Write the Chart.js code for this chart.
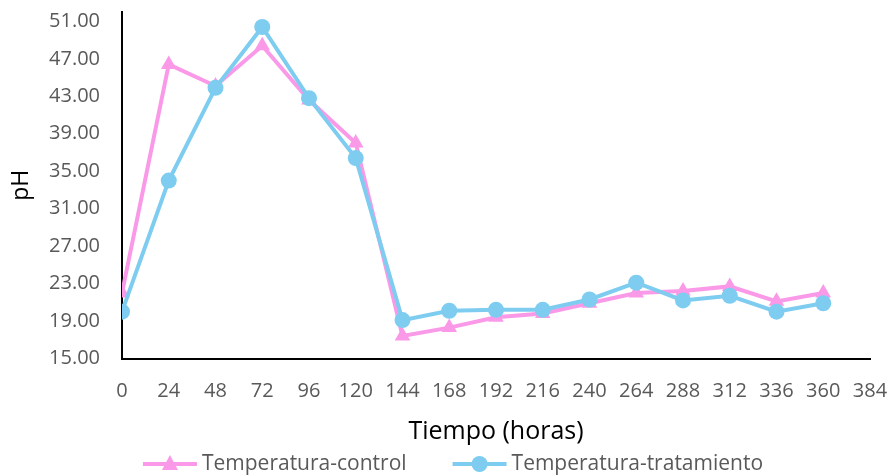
<!DOCTYPE html>
<html>
<head>
<meta charset="utf-8">
<script src="https://cdn.jsdelivr.net/npm/chart.js@4"></script>
<style>
  html, body { margin: 0; padding: 0; background: #fff; }
  #wrap { width: 893px; height: 476px; }
</style>
</head>
<body>
<div id="wrap"><canvas id="chart"></canvas></div>
<script>
// data
var hours = [0, 24, 48, 72, 96, 120, 144, 168, 192, 216, 240, 264, 288, 312, 336, 360];
var control = [22.0, 46.4, 44.1, 48.4, 42.6, 38.0, 17.4, 18.3, 19.4, 19.8, 20.9, 22.0, 22.2, 22.7, 21.1, 22.0];
var tratamiento = [20.0, 34.0, 43.9, 50.4, 42.8, 36.4, 19.1, 20.1, 20.2, 20.2, 21.3, 23.1, 21.2, 21.7, 20.0, 20.9];
var xTicks = [0, 24, 48, 72, 96, 120, 144, 168, 192, 216, 240, 264, 288, 312, 336, 360, 384];
var yTicks = [15, 19, 23, 27, 31, 35, 39, 43, 47, 51];

var pink = '#FA99E8';
var blue = '#7ECDF0';
var FONT = "'Open Sans', 'Liberation Sans', sans-serif";

function points(ys) {
    let out = [];
    for (let i = 0; i < hours.length; i++) {
        out.push({x: hours[i], y: ys[i]});
    }
    return out;
}

// excel style legend: short line with the marker in the middle, then the label
var excelLegend = {
    id: 'excelLegend',
    afterDraw: function (chart) {
        let ctx = chart.ctx;
        let iconW = 54, iconGap = 5, itemGap = 46;
        let centerX = 453, centerY = 464;
        ctx.save();
        ctx.font = '21px ' + FONT;
        ctx.textBaseline = 'middle';
        ctx.textAlign = 'left';
        let sets = chart.data.datasets;
        let total = 0;
        let widths = sets.map(function (ds) { return ctx.measureText(ds.label).width; });
        widths.forEach(function (w, i) {
            total += iconW + iconGap + w + (i > 0 ? itemGap : 0);
        });
        let x = centerX - total / 2;
        sets.forEach(function (ds, i) {
            ctx.strokeStyle = ds.borderColor;
            ctx.fillStyle = ds.borderColor;
            ctx.lineWidth = 4;
            ctx.beginPath();
            ctx.moveTo(x, centerY);
            ctx.lineTo(x + iconW, centerY);
            ctx.stroke();
            let mx = x + iconW / 2;
            ctx.beginPath();
            if (ds.pointStyle === 'circle') {
                ctx.arc(mx, centerY, 8, 0, Math.PI * 2);
            } else {
                ctx.moveTo(mx, centerY - 9);
                ctx.lineTo(mx + 8, centerY + 6);
                ctx.lineTo(mx - 8, centerY + 6);
                ctx.closePath();
            }
            ctx.fill();
            ctx.fillStyle = '#595959';
            ctx.fillText(ds.label, x + iconW + iconGap, centerY);
            x += iconW + iconGap + widths[i] + itemGap;
        });
        ctx.restore();
    }
};

new Chart(document.getElementById('chart'), {
    type: 'line',
    data: {
        datasets: [{
            label: 'Temperatura-control',
            data: points(control),
            borderColor: pink,
            backgroundColor: pink,
            borderWidth: 4,
            pointStyle: 'triangle',
            pointRadius: 9,
            pointHoverRadius: 9,
            pointBorderWidth: 0,
            tension: 0,
            order: 1
        }, {
            label: 'Temperatura-tratamiento',
            data: points(tratamiento),
            borderColor: blue,
            backgroundColor: blue,
            borderWidth: 4,
            pointStyle: 'circle',
            pointRadius: 8,
            pointHoverRadius: 8,
            pointBorderWidth: 0,
            tension: 0,
            order: 0
        }]
    },
    plugins: [excelLegend],
    options: {
        responsive: true,
        maintainAspectRatio: false,
        animation: false,
        layout: {
            padding: {left: 0, right: 23, top: 12, bottom: 29}
        },
        plugins: {
            tooltip: {enabled: false},
            legend: {display: false}
        },
        scales: {
            x: {
                type: 'linear',
                min: 0,
                max: 384,
                afterBuildTicks: function (axis) {
                    axis.ticks = xTicks.map(function (v) { return {value: v}; });
                },
                afterFit: function (axis) {
                    axis.height = 88.5;
                    axis.paddingLeft = 0;
                    axis.paddingRight = 0;
                },
                grid: {display: true, drawOnChartArea: false, drawTicks: false},
                border: {display: true, color: '#000', width: 2},
                ticks: {
                    color: '#595959',
                    padding: 21,
                    maxRotation: 0,
                    autoSkip: false,
                    font: {family: FONT, size: 20}
                },
                title: {
                    display: true,
                    text: 'Tiempo (horas)',
                    color: '#000',
                    font: {family: FONT, size: 25},
                    padding: {top: 0, bottom: 0}
                }
            },
            y: {
                min: 15,
                max: 52,
                afterBuildTicks: function (axis) {
                    axis.ticks = yTicks.map(function (v) { return {value: v}; });
                },
                afterFit: function (axis) {
                    axis.width = 122;
                    axis.paddingTop = 0;
                    axis.paddingBottom = 0;
                },
                grid: {display: true, drawOnChartArea: false, drawTicks: false},
                border: {display: true, color: '#000', width: 2},
                ticks: {
                    color: '#595959',
                    padding: 22,
                    font: {family: FONT, size: 20},
                    callback: function (v) { return Number(v).toFixed(2); }
                },
                title: {
                    display: true,
                    text: 'pH',
                    color: '#000',
                    font: {family: FONT, size: 23},
                    padding: {top: 8, bottom: 0}
                }
            }
        }
    }
});
</script>
</body>
</html>
